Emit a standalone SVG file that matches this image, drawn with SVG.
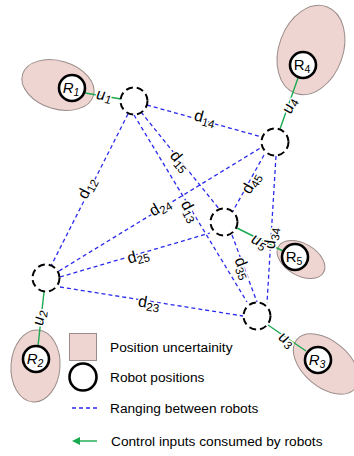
<svg xmlns="http://www.w3.org/2000/svg" width="354" height="456" viewBox="0 0 354 456">
<style>
.ell{fill:#efd5d1;stroke:#9a8c8a;stroke-width:1}
.pos{fill:none;stroke:#000;stroke-width:2;stroke-dasharray:7 4}
.rob{fill:#fff;stroke:#000;stroke-width:2.6}
.rng{stroke:#2a2aee;stroke-width:1.3;stroke-dasharray:4 3;fill:none}
.ctl{stroke:#1aaa50;stroke-width:1.4;fill:none}
.lbl{font-family:"Liberation Sans",Arial,sans-serif;font-size:16px;fill:#000;stroke:#fff;stroke-width:3;paint-order:stroke;stroke-linejoin:round}
.it{font-style:italic}
.sub{font-size:11.5px}
.rl{font-family:"Liberation Sans",Arial,sans-serif;font-size:15px;fill:#000}
.rl .sub{font-size:10.5px}
.leg{font-family:"Liberation Sans",Arial,sans-serif;font-size:13.7px;fill:#000}
</style>
<defs>
<marker id="ah" markerWidth="9" markerHeight="9" refX="0" refY="4" orient="auto" markerUnits="userSpaceOnUse">
<path d="M0,0 L8,4 L0,8 Z" fill="#1aaa50"/>
</marker>
</defs>

<g id="uncertainty">
<ellipse class="ell" cx="58" cy="85" rx="37" ry="24" transform="rotate(17 58 85)"/>
<ellipse class="ell" cx="311" cy="50" rx="32" ry="46" transform="rotate(20 311 50)"/>
<ellipse class="ell" cx="35.5" cy="366" rx="24.5" ry="36" transform="rotate(4 35.5 366)"/>
<ellipse class="ell" cx="301" cy="259.5" rx="26" ry="16" transform="rotate(30 301 259.5)"/>
<ellipse class="ell" cx="326" cy="364" rx="38" ry="23" transform="rotate(40 326 364)"/>
</g>

<g id="connectors">
<line class="rng" x1="128" y1="114" x2="51" y2="266"/>
<line class="rng" x1="147" y1="105" x2="262" y2="137"/>
<line class="rng" x1="141" y1="112" x2="220" y2="210"/>
<line class="rng" x1="134" y1="115" x2="247" y2="302"/>
<line class="rng" x1="59" y1="271" x2="262" y2="147"/>
<line class="rng" x1="60" y1="277" x2="210" y2="233"/>
<line class="rng" x1="60" y1="287" x2="243" y2="316"/>
<line class="rng" x1="264" y1="155" x2="233" y2="211"/>
<line class="rng" x1="276" y1="156" x2="267" y2="303"/>
<line class="rng" x1="232" y1="235" x2="257" y2="302"/>
<line class="ctl" x1="85" y1="93" x2="121" y2="99"/>
<line class="ctl" x1="298" y1="78" x2="280" y2="129"/>
<line class="ctl" x1="38" y1="346" x2="44" y2="292"/>
<line class="ctl" x1="237" y1="228" x2="283" y2="251"/>
<line class="ctl" x1="268" y1="325" x2="306" y2="351"/>
</g>

<g id="labels">
<text class="lbl" transform="translate(87 188) rotate(-63)" y="5" text-anchor="middle">d<tspan class="sub" dy="3">12</tspan></text>
<text class="lbl" transform="translate(205 118) rotate(15)" y="5" text-anchor="middle">d<tspan class="sub" dy="3">14</tspan></text>
<text class="lbl" transform="translate(180 161) rotate(50)" y="5" text-anchor="middle">d<tspan class="sub" dy="3">15</tspan></text>
<text class="lbl" transform="translate(190 211) rotate(62)" y="5" text-anchor="middle">d<tspan class="sub" dy="3">13</tspan></text>
<text class="lbl" transform="translate(160 207) rotate(-31)" y="5" text-anchor="middle">d<tspan class="sub" dy="3">24</tspan></text>
<text class="lbl" transform="translate(138 256) rotate(-16)" y="5" text-anchor="middle">d<tspan class="sub" dy="3">25</tspan></text>
<text class="lbl" transform="translate(149 303) rotate(9)" y="5" text-anchor="middle">d<tspan class="sub" dy="3">23</tspan></text>
<text class="lbl" transform="translate(251 183) rotate(-60)" y="5" text-anchor="middle">d<tspan class="sub" dy="3">45</tspan></text>
<text class="lbl" transform="translate(271 238) rotate(-82)" y="5" text-anchor="middle">d<tspan class="sub" dy="3">34</tspan></text>
<text class="lbl" transform="translate(243 268) rotate(68)" y="5" text-anchor="middle">d<tspan class="sub" dy="3">35</tspan></text>
<text class="lbl it" transform="translate(104 96) rotate(8)" y="4" text-anchor="middle">u<tspan class="sub" dy="3">1</tspan></text>
<text class="lbl it" transform="translate(290 106) rotate(-70)" y="4" text-anchor="middle">u<tspan class="sub" dy="3">4</tspan></text>
<text class="lbl it" transform="translate(40 318) rotate(-83)" y="4" text-anchor="middle">u<tspan class="sub" dy="3">2</tspan></text>
<text class="lbl it" transform="translate(259 242) rotate(27)" y="4" text-anchor="middle">u<tspan class="sub" dy="3">5</tspan></text>
<text class="lbl it" transform="translate(286 340) rotate(35)" y="4" text-anchor="middle">u<tspan class="sub" dy="3">3</tspan></text>
</g>

<g id="P1"><circle class="pos" cx="134" cy="101" r="13.5"/></g>
<g id="P2"><circle class="pos" cx="46" cy="278" r="13.5"/></g>
<g id="P3"><circle class="pos" cx="257" cy="316" r="13.5"/></g>
<g id="P4"><circle class="pos" cx="275" cy="142" r="13.5"/></g>
<g id="P5"><circle class="pos" cx="224" cy="222" r="13.5"/></g>

<g id="R1"><circle class="rob" cx="72" cy="88" r="13"/><text class="rl it" x="71" y="93" text-anchor="middle">R<tspan class="sub" dy="3">1</tspan></text></g>
<g id="R2"><circle class="rob" cx="36" cy="359" r="13"/><text class="rl it" x="35" y="364" text-anchor="middle">R<tspan class="sub" dy="3">2</tspan></text></g>
<g id="R3"><circle class="rob" cx="318" cy="360" r="13"/><text class="rl it" x="317" y="365" text-anchor="middle">R<tspan class="sub" dy="3">3</tspan></text></g>
<g id="R4"><circle class="rob" cx="303" cy="65" r="13"/><text class="rl" x="302" y="70" text-anchor="middle">R<tspan class="sub" dy="3">4</tspan></text></g>
<g id="R5"><circle class="rob" cx="295" cy="257" r="13"/><text class="rl" x="294" y="262" text-anchor="middle">R<tspan class="sub" dy="3">5</tspan></text></g>

<g id="legend">
<rect class="ell" x="69.5" y="333.5" width="27" height="27"/>
<text class="leg" x="110" y="352">Position uncertainity</text>
<circle class="rob" cx="83" cy="377" r="13.5"/>
<text class="leg" x="110" y="382">Robot positions</text>
<line class="rng" x1="72" y1="408" x2="97" y2="408"/>
<text class="leg" x="110" y="413">Ranging between robots</text>
<line class="ctl" x1="97" y1="441" x2="80" y2="441" marker-end="url(#ah)"/>
<text class="leg" x="111" y="446">Control inputs consumed by robots</text>
</g>
</svg>
